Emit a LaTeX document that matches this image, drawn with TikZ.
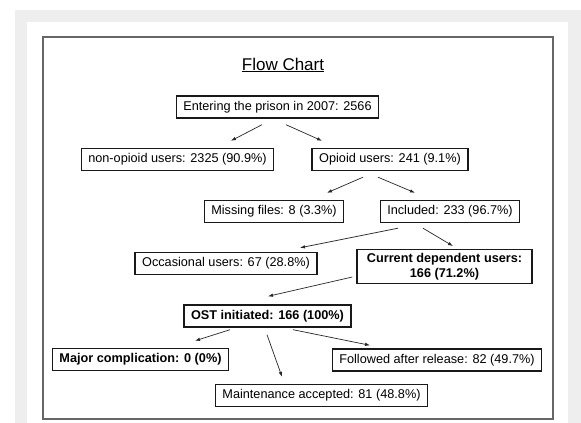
\documentclass[tikz,border=0pt]{standalone}
\usepackage{fontspec}
\setmainfont{Liberation Sans}
\usepackage{tikz}
\usetikzlibrary{arrows.meta}
\definecolor{pagegray}{HTML}{EEEEEE}
\definecolor{framegray}{HTML}{666666}
\tikzset{every picture/.style={line width=0.75pt}}
\tikzset{
  box/.style={draw=black!90,line width=1.4pt,inner xsep=7pt,minimum height=22pt,
    font=\fontsize{12.7}{15}\selectfont},
  boldbox/.style={box,font=\fontsize{12.7}{15}\selectfont\bfseries},
  arr/.style={-{Latex[length=5pt,width=3.5pt]},line width=0.7pt,black!85}
}

\begin{document}
\begin{tikzpicture}[x=1pt,y=-1pt]
    \useasboundingbox (0,0) rectangle (581,423);
    \fill[pagegray] (15,10) rectangle (581,423);
    \fill[white] (27,22) rectangle (568,423);
    \draw[framegray,line width=1.2pt] (43,37) rectangle (553,419);

    \path (283,65) node[font=\fontsize{17}{20}\selectfont] (title) {\underline{Flow Chart}};
    \path (277.5,107) node[box] (entering) {Entering the prison in 2007: 2566};
    \path (177.5,159.5) node[box] (nonop) {non-opioid users: 2325 (90.9\%)};
    \path (390,159.5) node[box] (opioid) {Opioid users: 241 (9.1\%)};
    \path (274,211.5) node[box] (missing) {Missing files: 8 (3.3\%)};
    \path (450,211.5) node[box] (included) {Included: 233 (96.7\%)};
    \path (226,263.5) node[box] (occasional) {Occasional users: 67 (28.8\%)};
    \path (444.5,266.5) node[boldbox,align=center,minimum width=175pt] (current)
      {Current dependent users:\\166 (71.2\%)};
    \path (267.5,316) node[boldbox] (ost) {OST initiated: 166 (100\%)};
    \path (140.5,359.5) node[boldbox] (major) {Major complication: 0 (0\%)};
    \path (437,360) node[box] (followed) {Followed after release: 82 (49.7\%)};
    \path (321.5,395.5) node[box] (maint) {Maintenance accepted: 81 (48.8\%)};

    \draw[arr] ([xshift=-15.5pt,yshift=-6pt]entering.south) -- ([xshift=53.5pt,yshift=7pt]nonop.north);
    \draw[arr] ([xshift=8.5pt,yshift=-6pt]entering.south) -- ([xshift=-68pt,yshift=7pt]opioid.north);
    \draw[arr] ([xshift=-27pt,yshift=-6pt]opioid.south) -- ([xshift=53pt,yshift=7pt]missing.north);
    \draw[arr] ([xshift=-12pt,yshift=-6pt]opioid.south) -- ([xshift=-35pt,yshift=7pt]included.north);
    \draw[arr] ([xshift=-52pt,yshift=-5pt]included.south) -- ([xshift=74pt,yshift=4pt]occasional.north);
    \draw[arr] ([xshift=-27pt,yshift=-5pt]included.south) -- ([xshift=8.5pt,yshift=3pt]current.north);
    \draw[arr] ([xshift=-4pt,yshift=-10.5pt]current.west) -- ([xshift=0.5pt,yshift=8pt]ost.north);
    \draw[arr] ([xshift=-37.5pt,yshift=-2pt]ost.south) -- ([xshift=54.5pt,yshift=7pt]major.north);
    \draw[arr] ([xshift=-0.5pt,yshift=-7pt]ost.south) -- ([xshift=-39.5pt,yshift=7pt]maint.north);
    \draw[arr] ([xshift=25.5pt,yshift=-2pt]ost.south) -- ([xshift=-67pt,yshift=3pt]followed.north);
\end{tikzpicture}
\end{document}
